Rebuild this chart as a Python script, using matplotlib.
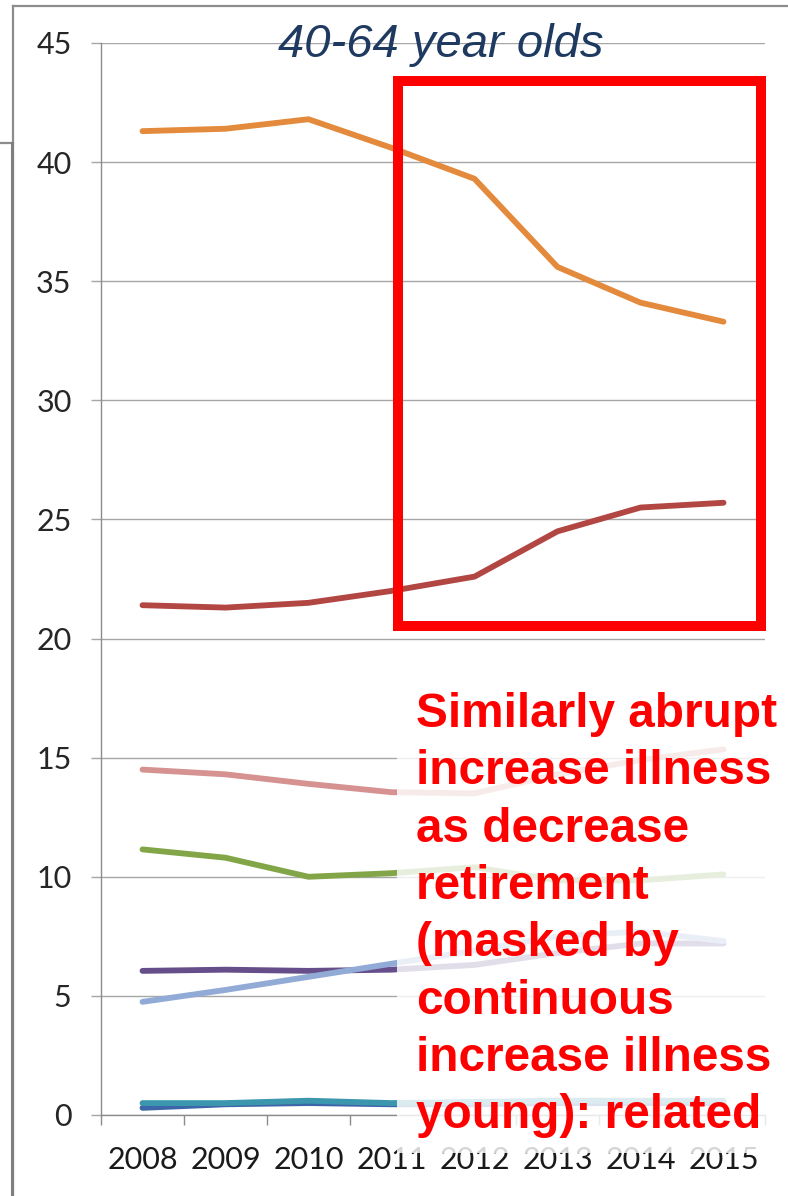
import matplotlib
matplotlib.use("Agg")
import matplotlib.pyplot as plt
from matplotlib.patches import Rectangle
from matplotlib.lines import Line2D

years = ['2008', '2009', '2010', '2011', '2012', '2013', '2014', '2015']

orange = [41.3, 41.4, 41.8, 40.6, 39.3, 35.6, 34.1, 33.3]
darkred = [21.4, 21.3, 21.5, 22.0, 22.6, 24.5, 25.5, 25.7]
pink = [14.5, 14.3, 13.9, 13.55, 13.5, 14.3, 14.9, 15.35]
green = [11.15, 10.8, 10.0, 10.15, 10.4, 9.85, 9.85, 10.1]
purple = [6.05, 6.1, 6.05, 6.1, 6.3, 6.8, 7.2, 7.2]
lightblue = [4.75, 5.25, 5.8, 6.35, 6.9, 7.5, 7.7, 7.3]
teal = [0.5, 0.5, 0.6, 0.5, 0.55, 0.6, 0.6, 0.6]
navy = [0.3, 0.45, 0.5, 0.45, 0.45, 0.5, 0.5, 0.5]

yticks = [0, 5, 10, 15, 20, 25, 30, 35, 40, 45]

title = "40-64 year olds"
note = ["Similarly abrupt", "increase illness", "as decrease", "retirement",
        "(masked by", "continuous", "increase illness", "young): related"]

W, H = 788, 1196
fig = plt.figure(figsize=(W / 100, H / 100), dpi=100)

def fx(px):
    return px / W

def fy(py):
    return 1 - py / H

grey = '#8c8c8c'
gridc = '#a6a6a6'

ax = fig.add_axes([fx(101), fy(1115), fx(765) - fx(101), fy(43) - fy(1115)])

x = list(range(len(years)))
lines = [(navy, '#3d66a8'), (teal, '#3c97ae'), (purple, '#664e8b'),
         (lightblue, '#91abd6'), (green, '#82a548'), (pink, '#d59291'),
         (darkred, '#b24643'), (orange, '#e38a3c')]
for vals, c in lines:
    ax.plot(x, vals, color=c, lw=4.2, solid_joinstyle='round',
            solid_capstyle='round', zorder=3)

ax.set_xlim(-0.5, len(years) - 0.5)
ax.set_ylim(0, 45)
ax.set_yticks(yticks)
ax.set_xticks(x)
ax.set_xticklabels(years)
ax.set_xticks([i - 0.5 for i in range(len(years) + 1)], minor=True)

ax.grid(axis='y', color=gridc, lw=1.0)
ax.set_axisbelow(True)
for s in ['top', 'right']:
    ax.spines[s].set_visible(False)
ax.spines['left'].set_color(grey)
ax.spines['bottom'].set_color(grey)
ax.spines['left'].set_linewidth(1.0)
ax.spines['bottom'].set_linewidth(1.0)

ax.tick_params(axis='y', length=7.2, width=1.0, color=gridc, pad=14,
               labelsize=22, labelcolor='#262626')
ax.tick_params(axis='x', which='major', length=0, pad=22,
               labelsize=22, labelcolor='#1a1a1a')
ax.tick_params(axis='x', which='minor', length=7.2, width=1.0, color=grey)
for lab in ax.get_xticklabels() + ax.get_yticklabels():
    lab.set_family('Lato')

# slide frame edges
fig.add_artist(Line2D([fx(13), 1], [fy(6), fy(6)], color=grey, lw=1.6))
fig.add_artist(Line2D([fx(13), fx(13)], [fy(6), 0], color=grey, lw=1.6))
fig.add_artist(Line2D([0, fx(13)], [fy(143), fy(143)], color=grey, lw=1.6))
fig.add_artist(Line2D([fx(11.5), fx(11.5)], [fy(143), 0], color='#7f7f7f', lw=2.2))

fig.text(fx(441), fy(57), title, ha='center', va='baseline', fontsize=34,
         style='italic', color='#1f3a60', family='Liberation Sans')

# highlight box
fig.patches.append(Rectangle((fx(398), fy(626)), fx(761) - fx(398), fy(81) - fy(626),
                             transform=fig.transFigure, fill=False,
                             edgecolor='#ff0000', lw=7.2, zorder=2))

# translucent backing for the note
fig.patches.append(Rectangle((fx(397), fy(1153)), 1 - fx(397), fy(668) - fy(1153),
                             transform=fig.transFigure, facecolor='white',
                             edgecolor='none', alpha=0.82, zorder=2))

for i, t in enumerate(note):
    fig.text(fx(416), fy(727 + i * 57.3), t, ha='left', va='baseline',
             fontsize=34.4, fontweight='bold', color='#ff0000',
             family='Liberation Sans', zorder=4)

fig.savefig('out.png', dpi=100)
